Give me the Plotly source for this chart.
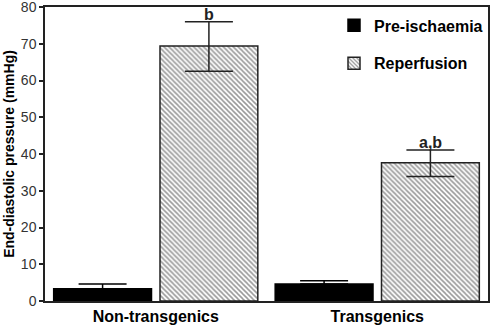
import plotly.graph_objects as go

categories = ["Non-transgenics", "Transgenics"]
pre_values = [3.3, 4.6]
pre_err = [1.3, 0.9]
rep_values = [69.4, 37.6]
rep_err_plus = [6.6, 3.5]
rep_err_minus = [6.9, 3.7]
sig_labels = ["b", "a,b"]

fig = go.Figure()
fig.add_trace(go.Bar(
    x=categories, y=pre_values, name="Pre-ischaemia", legendgroup="a",
    marker=dict(color="black", line=dict(color="black", width=1.5)),
    error_y=dict(type="data", array=pre_err, arrayminus=[0, 0], color="black", thickness=1.5, width=24),
))
fig.add_trace(go.Bar(
    x=categories, y=rep_values, name="Reperfusion", legendgroup="b",
    marker=dict(color="white", line=dict(color="#222", width=1.5),
                pattern=dict(shape="\\", size=3.5, solidity=0.45, fgcolor="#333", bgcolor="white")),
    error_y=dict(type="data", array=rep_err_plus, arrayminus=rep_err_minus, color="#222", thickness=1.5, width=24),
))

for c, v, e, s in zip(categories, rep_values, rep_err_plus, sig_labels):
    fig.add_annotation(x=c, y=v + e, xref="x", yref="y", text="<b>" + s + "</b>", showarrow=False,
                       xshift=53, yanchor="bottom", yshift=-3,
                       font=dict(family="Liberation Sans, Arial", size=16, color="#222"))

fig.update_layout(
    width=490, height=329,
    margin=dict(l=45, r=2, t=7, b=28),
    paper_bgcolor="white", plot_bgcolor="white",
    barmode="group", bargap=0.04, bargroupgap=0.08,
    showlegend=True,
    legend=dict(x=1.0, y=0.995, xanchor="right", yanchor="top",
                font=dict(family="Liberation Sans, Arial", size=16, color="black", weight="bold"),
                bgcolor="rgba(0,0,0,0)", tracegroupgap=14, traceorder="grouped", itemwidth=30),
    font=dict(family="Liberation Sans, Arial", color="#222"),
)
fig.update_xaxes(showline=True, linecolor="#222", linewidth=1.5, mirror=True, ticks="", automargin=False,
                 tickfont=dict(size=16, color="black", weight="bold"), showgrid=False)
fig.update_yaxes(range=[0, 80], dtick=10, showline=True, linecolor="#222", linewidth=1.5, mirror=True,
                 automargin=False, ticklabeloverflow="allow",
                 ticks="outside", ticklen=4, tickwidth=1.5, tickcolor="#222", showgrid=False, zeroline=False,
                 tickfont=dict(size=14, color="#333"),
                 title=dict(text="End-diastolic pressure (mmHg)", standoff=3,
                            font=dict(size=14, color="black", weight="bold")))

fig.write_html("out.html", post_script="document.body.style.margin='0';",
               config={"displayModeBar": False})
